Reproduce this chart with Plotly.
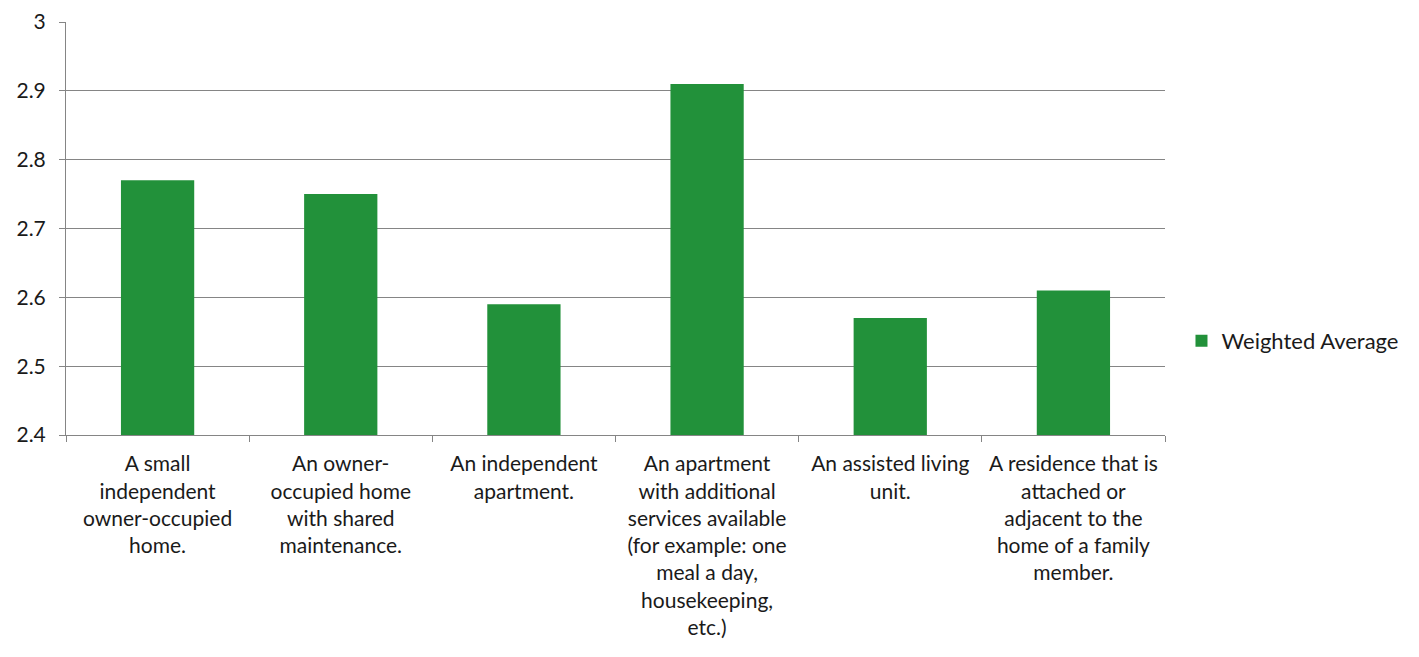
import plotly.graph_objects as go

categories = [
    "A small<br>independent<br>owner-occupied<br>home.",
    "An owner-<br>occupied home<br>with shared<br>maintenance.",
    "An independent<br>apartment.",
    "An apartment<br>with additional<br>services available<br>(for example: one<br>meal a day,<br>housekeeping,<br>etc.)",
    "An assisted living<br>unit.",
    "A residence that is<br>attached or<br>adjacent to the<br>home of a family<br>member.",
]
weighted_average = [2.77, 2.75, 2.59, 2.91, 2.57, 2.61]
y_ticks = [2.4, 2.5, 2.6, 2.7, 2.8, 2.9, 3.0]
y_tick_labels = ["2.4", "2.5", "2.6", "2.7", "2.8", "2.9", "3"]

FONT = "Lato, 'Open Sans', sans-serif"
TXT = "#1a1a1a"

fig = go.Figure()
fig.add_trace(go.Bar(
    x=categories,
    y=weighted_average,
    name="Weighted Average",
    marker=dict(color="#22913a", line=dict(width=0)),
    width=0.4,
    showlegend=True,
))

fig.update_layout(
    width=1403,
    height=641,
    paper_bgcolor="white",
    plot_bgcolor="white",
    margin=dict(l=58, r=246, t=14, b=214, autoexpand=False),
    font=dict(family=FONT, size=21, color=TXT),
    showlegend=True,
    legend=dict(
        x=1.015, y=0.228, xanchor="left", yanchor="middle",
        font=dict(family=FONT, size=22, color=TXT),
        bgcolor="rgba(0,0,0,0)",
        itemwidth=30,
    ),
)

fig.update_yaxes(
    range=[2.4, 3.0],
    tickvals=y_ticks,
    ticktext=y_tick_labels,
    showgrid=True,
    gridcolor="#858585",
    gridwidth=1,
    showline=True,
    linecolor="#858585",
    linewidth=1,
    ticks="outside",
    ticklen=6,
    tickcolor="#858585",
    ticklabelstandoff=9,
    tickfont=dict(family=FONT, size=21, color=TXT),
    zeroline=False,
)

fig.update_xaxes(
    showline=True,
    linecolor="#858585",
    linewidth=1,
    ticks="outside",
    tickson="boundaries",
    ticklen=6,
    tickcolor="#858585",
    tickangle=0,
    ticklabelstandoff=10,
    tickfont=dict(family=FONT, size=21, color=TXT),
    showgrid=False,
)

fig.write_html("out.html")
